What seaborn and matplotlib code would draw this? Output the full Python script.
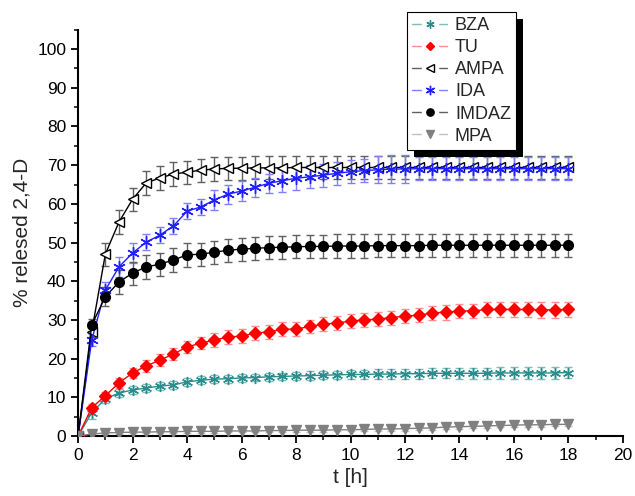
import matplotlib
matplotlib.use("Agg")
import matplotlib.pyplot as plt
import matplotlib.patheffects as pe
from matplotlib.lines import Line2D
from matplotlib.ticker import MultipleLocator
import seaborn as sns

# Datos (t en horas, % liberado de 2,4-D)
t = [0, 0.5, 1, 1.5, 2, 2.5, 3, 3.5, 4, 4.5, 5, 5.5, 6, 6.5, 7, 7.5, 8, 8.5, 9,
     9.5, 10, 10.5, 11, 11.5, 12, 12.5, 13, 13.5, 14, 14.5, 15, 15.5, 16, 16.5,
     17, 17.5, 18]

bza = [0, 6.0, 9.6, 11.1, 11.9, 12.4, 12.9, 13.2, 14.0, 14.4, 14.7, 14.8, 15.0,
       15.1, 15.3, 15.4, 15.5, 15.6, 15.7, 15.8, 15.9, 15.9, 16.0, 16.0, 16.1,
       16.1, 16.2, 16.2, 16.2, 16.2, 16.2, 16.3, 16.3, 16.3, 16.3, 16.3, 16.4]
bza_err = [0, 1.5, 1.0, 1.0, 1.0, 1.0, 1.0, 1.0, 1.0, 1.0, 1.0, 1.0, 1.0, 1.0,
           1.0, 1.0, 1.0, 1.1, 1.1, 1.1, 1.2, 1.2, 1.2, 1.2, 1.3, 1.3, 1.3, 1.3,
           1.4, 1.4, 1.4, 1.5, 1.5, 1.5, 1.5, 1.5, 1.5]

tu = [0, 7.3, 10.4, 13.7, 16.3, 18.1, 19.6, 21.2, 23.0, 24.0, 24.8, 25.6, 25.8,
      26.6, 26.9, 27.6, 27.6, 28.3, 28.9, 29.2, 29.7, 30.0, 30.2, 30.6, 31.0,
      31.2, 31.8, 32.0, 32.3, 32.3, 32.7, 32.7, 32.7, 32.7, 32.6, 32.6, 32.7]
tu_err = [0, 1.0, 1.0, 1.2, 1.4, 1.5, 1.5, 1.5, 1.5, 1.6, 1.7, 1.8, 1.8, 1.8,
          1.8, 1.8, 1.8, 1.8, 1.8, 1.8, 1.8, 1.8, 1.8, 1.8, 1.8, 1.8, 1.9, 1.9,
          1.9, 1.9, 2.0, 2.0, 2.0, 2.0, 2.0, 2.0, 2.0]

ampa = [0, 27.0, 47.0, 55.3, 61.2, 65.4, 66.7, 67.7, 68.2, 68.7, 69.0, 69.2,
        69.2, 69.3, 69.3, 69.3, 69.4, 69.4, 69.4, 69.4, 69.4, 69.4, 69.4, 69.4,
        69.4, 69.4, 69.4, 69.4, 69.4, 69.4, 69.4, 69.4, 69.4, 69.4, 69.4, 69.4,
        69.4]
ampa_err = [0, 1.5, 3.0, 3.0, 3.0, 3.0, 3.0, 3.0, 3.0, 3.0, 3.0, 3.0, 3.0, 3.0,
            3.0, 3.0, 3.0, 3.0, 3.0, 3.0, 3.0, 3.0, 3.0, 3.0, 3.0, 3.0, 3.0, 3.0,
            3.0, 3.0, 3.0, 3.0, 3.0, 3.0, 3.0, 3.0, 3.0]

ida = [0, 24.8, 37.7, 43.7, 47.3, 50.1, 51.9, 54.3, 58.1, 59.2, 61.0, 62.5,
       63.3, 64.3, 65.3, 66.0, 66.6, 67.0, 67.4, 67.9, 68.3, 68.6, 68.8, 69.0,
       69.0, 69.1, 69.1, 69.1, 69.1, 69.1, 69.1, 69.1, 69.1, 69.1, 69.1, 69.1,
       69.1]
ida_err = [0, 1.5, 2.0, 2.5, 2.5, 2.0, 2.0, 2.0, 2.0, 2.0, 2.5, 2.5, 2.5, 2.5,
           2.5, 3.0, 3.0, 3.0, 3.0, 3.0, 3.0, 3.0, 3.5, 3.5, 3.5, 3.0, 3.0, 3.0,
           3.0, 3.0, 3.0, 3.0, 3.0, 3.0, 3.0, 3.0, 3.0]

imdaz = [0, 28.7, 36.0, 39.8, 42.1, 43.7, 44.4, 45.5, 46.8, 47.0, 47.5, 48.0,
         48.3, 48.5, 48.7, 48.8, 48.9, 49.0, 49.0, 49.1, 49.1, 49.1, 49.2, 49.2,
         49.2, 49.2, 49.3, 49.3, 49.3, 49.3, 49.3, 49.3, 49.3, 49.3, 49.3, 49.3,
         49.3]
imdaz_err = [0, 1.5, 2.5, 3.0, 3.0, 3.0, 3.0, 3.0, 3.0, 3.0, 3.0, 3.0, 3.0,
             3.0, 3.0, 3.0, 3.0, 3.0, 3.0, 3.0, 3.0, 3.0, 3.0, 3.0, 3.0, 3.0,
             3.0, 3.0, 3.0, 3.0, 3.0, 3.0, 3.0, 3.0, 3.0, 3.0, 3.0]

mpa = [0, 0.5, 0.8, 0.9, 1.0, 1.0, 1.1, 1.1, 1.2, 1.2, 1.2, 1.3, 1.3, 1.3, 1.4,
       1.4, 1.5, 1.5, 1.5, 1.6, 1.6, 1.7, 1.8, 1.8, 1.9, 2.0, 2.1, 2.3, 2.4,
       2.5, 2.6, 2.7, 2.8, 2.9, 2.9, 3.0, 3.0]
mpa_err = [0, 0.3, 0.3, 0.3, 0.3, 0.3, 0.3, 0.3, 0.3, 0.3, 0.3, 0.3, 0.3, 0.3,
           0.4, 0.4, 0.4, 0.4, 0.4, 0.4, 0.4, 0.4, 0.5, 0.5, 0.5, 0.5, 0.5, 0.5,
           0.5, 0.5, 0.5, 0.5, 0.5, 0.5, 0.5, 0.5, 0.5]

series = [
    # nombre, valores, error, color, color claro, marker, relleno, tamaño
    ("BZA", bza, bza_err, "#2a8c8c", "#7fbcbc", (6, 2, 0), None, 8),
    ("TU", tu, tu_err, "#ff0000", "#ff8c8c", "D", "#ff0000", 6),
    ("AMPA", ampa, ampa_err, "#000000", "#606060", "<", "white", 7),
    ("IDA", ida, ida_err, "#1f1fff", "#8080ff", (6, 2, 0), None, 9),
    ("IMDAZ", imdaz, imdaz_err, "#000000", "#606060", "o", "#000000", 7),
    ("MPA", mpa, mpa_err, "#808080", "#c0c0c0", "v", "#808080", 7),
]

sns.set_style("ticks")
plt.rcParams["font.family"] = ["Liberation Sans", "DejaVu Sans"]

fig = plt.figure(figsize=(6.35, 4.96), dpi=100)
ax = fig.add_axes([0.123, 0.121, 0.858, 0.819])

handles = []
for name, y, err, col, light, mk, fill, ms in series:
    ax.errorbar(t, y, yerr=err, fmt="none", ecolor=light, elinewidth=1.0,
                capsize=3, capthick=1.0, zorder=2)
    kw = dict(color=col, marker=mk, markersize=ms, linewidth=1.0,
              markeredgecolor=col, markeredgewidth=1.0)
    if fill is not None:
        kw["markerfacecolor"] = fill
    sns.lineplot(x=t, y=y, ax=ax, zorder=3, **kw)

    # leyenda: linea clara con hueco y marcador al centro
    base = Line2D([], [], color=light, linewidth=1.0, marker="s",
                  markersize=11, markerfacecolor="white",
                  markeredgecolor="white")
    mkw = dict(kw)
    mkw["markersize"] = ms * 0.75
    mkw["linestyle"] = "none"
    handles.append((base, Line2D([], [], **mkw)))

ax.set_xlim(0, 20)
ax.set_ylim(0, 105)
ax.xaxis.set_major_locator(MultipleLocator(2))
ax.xaxis.set_minor_locator(MultipleLocator(1))
ax.yaxis.set_minor_locator(MultipleLocator(5))
ax.set_yticks(range(0, 101, 10))
ax.tick_params(which="major", length=5, width=1.3, labelsize=12.5, colors="black")
ax.tick_params(which="minor", length=3, width=1.3)
sns.despine(ax=ax)
for s in ["left", "bottom"]:
    ax.spines[s].set_linewidth(1.5)
    ax.spines[s].set_color("black")

ax.set_xlabel("t [h]", fontsize=15)
ax.set_ylabel("% relesed 2,4-D", fontsize=15)

leg = fig.legend(handles=handles, labels=[s[0] for s in series],
                 loc="upper left", bbox_to_anchor=(0.641, 0.976),
                 borderaxespad=0, fontsize=13, frameon=True, fancybox=False,
                 edgecolor="black", framealpha=1, handlelength=1.9,
                 labelspacing=0.28, borderpad=0.3, handletextpad=0.45)
leg.get_frame().set_linewidth(0.8)
leg.get_frame().set_path_effects([
    pe.SimplePatchShadow(offset=(5, -5), shadow_rgbFace="black", alpha=1),
    pe.Normal(),
])

fig.savefig("out.png", dpi=100)
